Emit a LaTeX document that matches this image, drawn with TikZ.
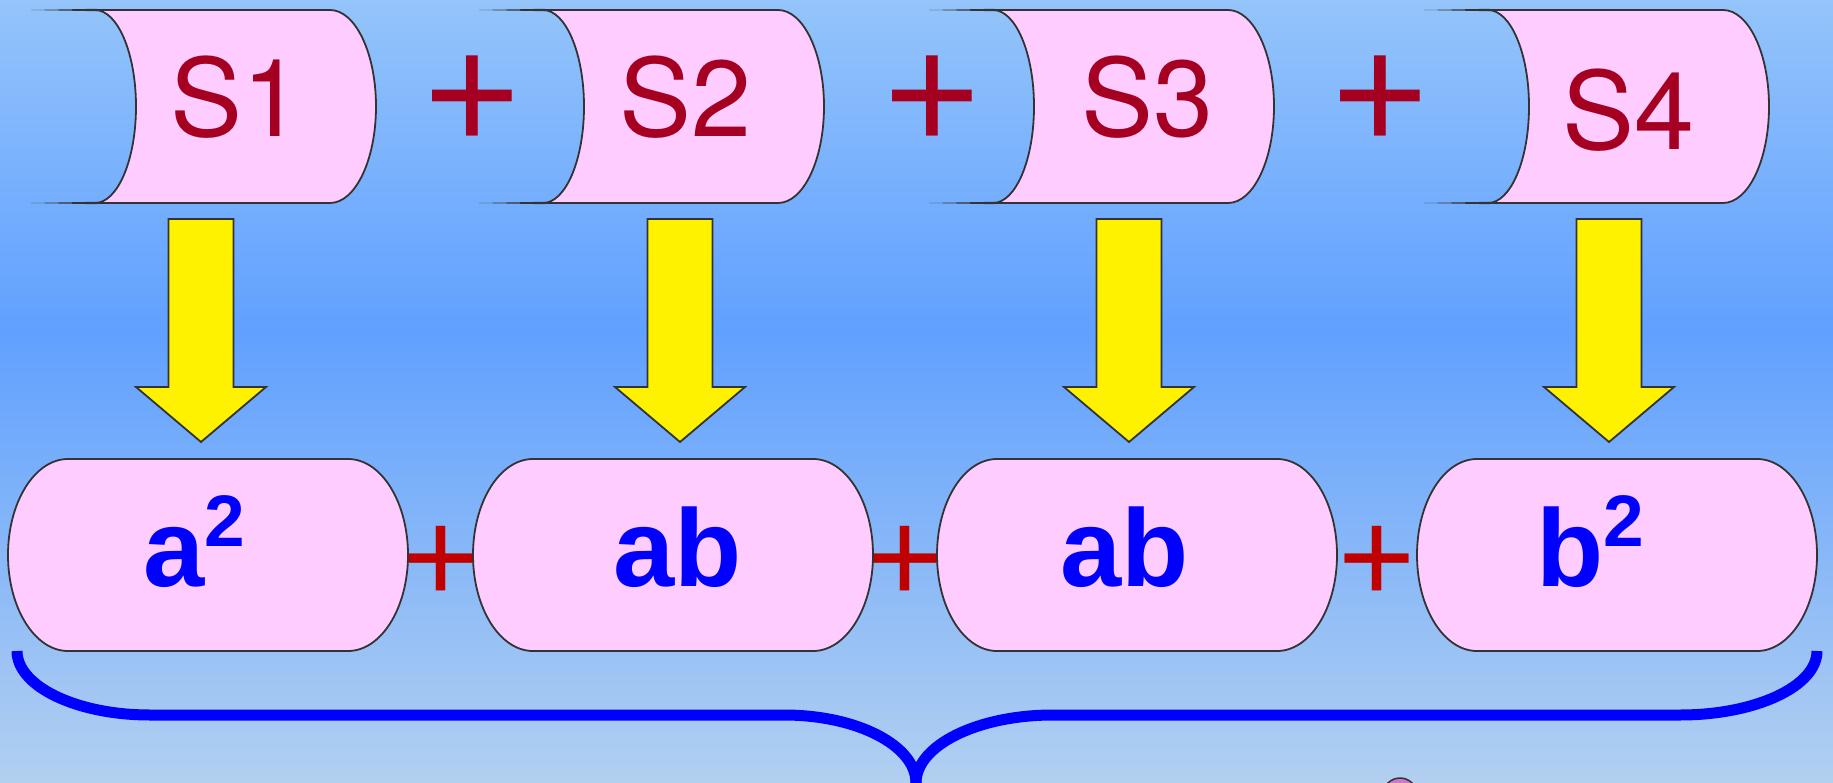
\documentclass[tikz,border=0pt]{standalone}
\usepackage{fontspec}
\setmainfont{Liberation Sans}
\newfontfamily\herosfont{TeX Gyre Heros}
\definecolor{bgtop}{HTML}{94C4FA}
\definecolor{bgmid}{HTML}{60A0FF}
\definecolor{bgbot}{HTML}{B2D0F0}
\definecolor{pinkfill}{HTML}{FFCCFF}
\definecolor{edgegray}{HTML}{333333}
\definecolor{sred}{HTML}{A50021}
\definecolor{pred}{HTML}{C00000}
\definecolor{tblue}{HTML}{0000FF}
\definecolor{dotfill}{HTML}{CC77CC}
\tikzset{
  cylbox/.style={fill=pinkfill, draw=edgegray, line width=1.8pt},
  stadbox/.style={fill=pinkfill, draw=edgegray, line width=1.8pt},
  yarrow/.style={fill=yellow, draw=edgegray, line width=1.8pt, line join=miter},
  stext/.style={font=\herosfont\fontsize{108}{108}\selectfont, text=sred, inner sep=0pt},
  btext/.style={font=\fontsize{110}{110}\selectfont\bfseries, text=tblue, inner sep=0pt},
  tplus/.style={font=\fontsize{164}{164}\selectfont, text=sred, inner sep=0pt},
  bplus/.style={font=\fontsize{132}{132}\selectfont, text=pred, inner sep=0pt},
  bracestroke/.style={draw=tblue, line width=11pt, line cap=butt}
}
\begin{document}
\begin{tikzpicture}[x=1pt,y=1pt]
\useasboundingbox (0,0) rectangle (1833,-783);
\clip (0,0) rectangle (1833,-783);
% background
\shade[top color=bgtop, bottom color=bgmid] (0,0.5) rectangle (1833,-330);
\shade[top color=bgmid, bottom color=bgbot] (0,-330) rectangle (1833,-784);

% top cylinders
\foreach \L/\n/\txt/\tx/\ty in {95/s1/S1/170/137, 543/s2/S2/619/137, 993/s3/S3/1081/137, 1488/s4/S4/1562/150}{
  \fill[edgegray] (\L-64,-10) -- (\L+2,-8.8) -- (\L+2,-11.2) -- cycle;
  \fill[edgegray] (\L-64,-203) -- (\L+2,-201.8) -- (\L+2,-204.2) -- cycle;
  \draw[cylbox] (\L,-10) -- (\L+235,-10)
     arc[start angle=90, end angle=-90, x radius=46, y radius=96.5]
     -- (\L,-203)
     arc[start angle=-90, end angle=90, x radius=41, y radius=96.5] -- cycle;
  \node[stext, anchor=base west] (\n) at (\tx,-\ty) {\txt};
}

% plus signs between cylinders
\node[tplus, anchor=base] (tp1) at (472,-151) {+};
\node[tplus, anchor=base] (tp2) at (932,-151) {+};
\node[tplus, anchor=base] (tp3) at (1380,-151) {+};

% yellow block arrows
\foreach \c in {201,680,1129,1609}{
  \draw[yarrow] (\c-32.5,-219) -- (\c+32.5,-219) -- (\c+32.5,-387) -- (\c+65,-387)
     -- (\c,-442) -- (\c-65,-387) -- (\c-32.5,-387) -- cycle;
}

% plus signs between bottom nodes (behind them)
\node[bplus, anchor=base] (bp1) at (441,-602.5) {+};
\node[bplus, anchor=base] (bp2) at (905,-602.5) {+};
\node[bplus, anchor=base] (bp3) at (1377,-602.5) {+};

% bottom stadium shapes
\foreach \x in {8,473,937,1417}{
  \draw[stadbox] (\x+60,-459) -- (\x+340,-459)
     arc[start angle=90, end angle=-90, x radius=60, y radius=96]
     -- (\x+60,-651)
     arc[start angle=270, end angle=90, x radius=60, y radius=96] -- cycle;
}
\node[btext, anchor=base west] (t1) at (143,-586) {a\raisebox{40pt}{\fontsize{73}{73}\selectfont 2}};
\node[btext, anchor=base west] (t2) at (613,-586) {ab};
\node[btext, anchor=base west] (t3) at (1060,-586) {ab};
\node[btext, anchor=base west] (t4) at (1536,-586) {b\raisebox{40pt}{\fontsize{73}{73}\selectfont 2}};

% brace
\draw[bracestroke] (17,-651) arc[start angle=180, end angle=270, x radius=133, y radius=64]
   -- (784,-715) arc[start angle=90, end angle=0, x radius=132, y radius=68] -- (916,-800);
\draw[bracestroke] (916,-800) -- (916,-783) arc[start angle=180, end angle=90, x radius=137, y radius=68]
   -- (1680,-715) arc[start angle=270, end angle=360, x radius=137, y radius=64];

% small dot at bottom
\draw[fill=dotfill, draw=edgegray, line width=1.5pt] (1400,-795) circle[radius=17];
\end{tikzpicture}
\end{document}
